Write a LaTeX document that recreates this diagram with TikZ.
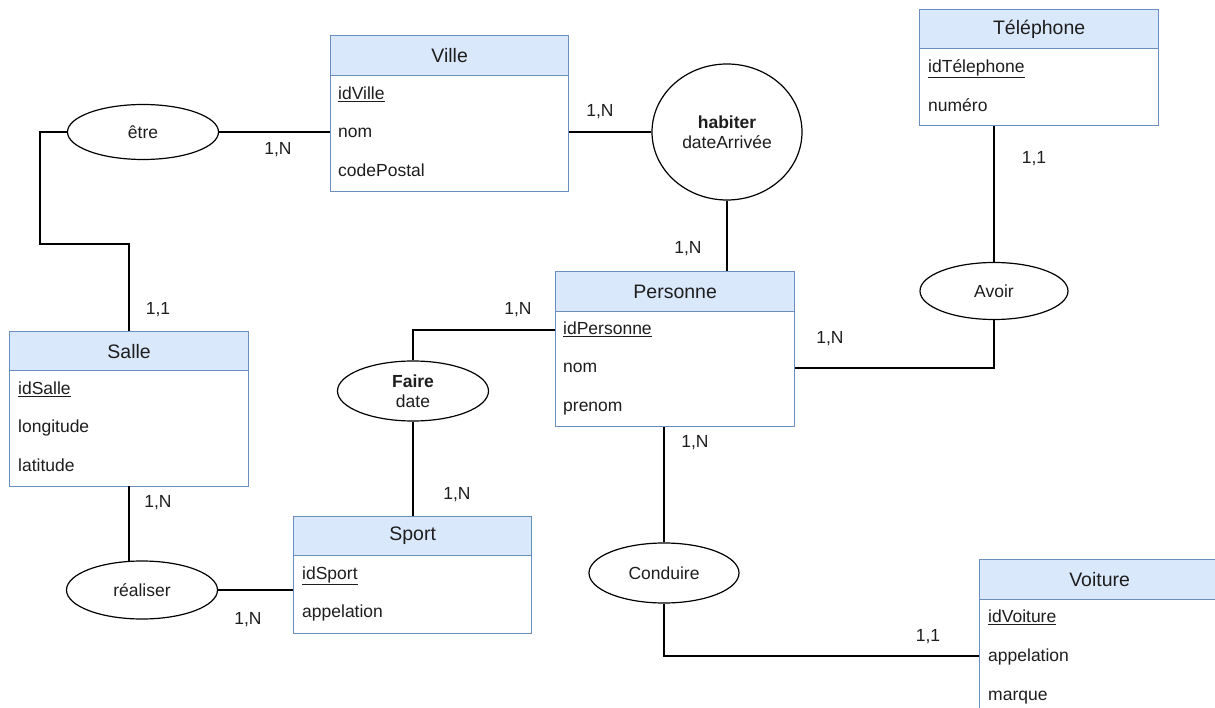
\documentclass[tikz,border=0pt]{standalone}
\usepackage{fontspec}
\setmainfont{Liberation Sans}
\usetikzlibrary{shapes.geometric}
\definecolor{hdfill}{HTML}{DAE8FC}
\definecolor{hdline}{HTML}{6C8EBF}
\definecolor{txt}{HTML}{1E1E1E}
\tikzset{
  entbox/.style={draw=hdline, line width=1.3pt, fill=white, anchor=north west, inner sep=0pt},
  enthead/.style={draw=hdline, line width=1.3pt, fill=hdfill, anchor=north west, inner sep=0pt,
    minimum height=40pt, text=txt, font=\fontsize{19.5}{22}\selectfont},
  attr/.style={anchor=west, inner sep=0pt, text height=12.5pt, text depth=3.5pt, text=txt,
    font=\fontsize{17.5}{20}\selectfont},
  rel/.style={ellipse, draw=black, line width=1.2pt, fill=white, inner sep=0pt,
    minimum width=151pt, minimum height=58pt, text=txt, align=center,
    font=\fontsize{17.5}{21}\selectfont},
  card/.style={inner sep=0pt, text height=12.5pt, text depth=3.5pt, text=txt,
    font=\fontsize{17.5}{20}\selectfont},
  conn/.style={draw=black, line width=1.2pt}
}
\begin{document}
\begin{tikzpicture}[x=1pt,y=-1pt]
\clip (0,0) rectangle (1215,708);
\fill[white] (0,0) rectangle (1215,708);

% ---------- entities ----------
% Ville
\node[entbox, minimum width=238pt, minimum height=156pt] (ville) at (330,35) {};
\node[enthead, minimum width=238pt] (villeH) at (330,35) {Ville};
\node[attr] (villeA1) at (338,95) {\underline{idVille}};
\node[attr] (villeA2) at (338,133) {nom};
\node[attr] (villeA3) at (338,172) {codePostal};

% Telephone
\node[entbox, minimum width=239pt, minimum height=116pt] (tel) at (919,9) {};
\node[enthead, minimum width=239pt, minimum height=39pt] (telH) at (919,9) {Téléphone};
\node[attr] (telA1) at (928,68) {\underline{idTélephone}};
\node[attr] (telA2) at (928,107) {numéro};

% Personne
\node[entbox, minimum width=239pt, minimum height=155pt] (pers) at (555,271) {};
\node[enthead, minimum width=239pt] (persH) at (555,271) {Personne};
\node[attr] (persA1) at (563,330) {\underline{idPersonne}};
\node[attr] (persA2) at (563,368) {nom};
\node[attr] (persA3) at (563,407) {prenom};

% Salle
\node[entbox, minimum width=239pt, minimum height=155pt] (salle) at (9,331) {};
\node[enthead, minimum width=239pt, minimum height=39pt] (salleH) at (9,331) {Salle};
\node[attr] (salleA1) at (18,390) {\underline{idSalle}};
\node[attr] (salleA2) at (18,428) {longitude};
\node[attr] (salleA3) at (18,467) {latitude};

% Sport
\node[entbox, minimum width=238pt, minimum height=117pt] (sport) at (293,516) {};
\node[enthead, minimum width=238pt, minimum height=39pt] (sportH) at (293,516) {Sport};
\node[attr] (sportA1) at (302,575) {\underline{idSport}};
\node[attr] (sportA2) at (302,613) {appelation};

% Voiture
\node[entbox, minimum width=240pt, minimum height=156pt] (voit) at (979,559) {};
\node[enthead, minimum width=240pt] (voitH) at (979,559) {Voiture};
\node[attr] (voitA1) at (988,618) {\underline{idVoiture}};
\node[attr] (voitA2) at (988,657) {appelation};
\node[attr] (voitA3) at (988,696) {marque};

% ---------- relations ----------
\node[rel, minimum height=55pt] (etre) at (143,132) {être};
\node[rel, minimum width=150pt, minimum height=136pt] (habiter) at (727,132) {\textbf{habiter}\\[-1pt]dateArrivée};
\node[rel, minimum width=148pt, minimum height=57pt] (avoir) at (994,291) {Avoir};
\node[rel, minimum height=60pt] (faire) at (413,391) {\textbf{Faire}\\[-1pt]date};
\node[rel] (realiser) at (142,590) {réaliser};
\node[rel, minimum width=150pt, minimum height=60pt] (conduire) at (664,573) {Conduire};

% ---------- connector corners ----------
\coordinate (c1) at (40,132);
\coordinate (c2) at (40,244);
\coordinate (c3) at (129,244);
\coordinate (c4) at (129,331);
\coordinate (c5) at (129,486);
\coordinate (c6) at (129,562);
\coordinate (c7) at (413,330);
\coordinate (c8) at (994,368);
\coordinate (c9) at (664,656);

% ---------- connectors ----------
\draw[conn] (etre.east) -- (etre.east -| ville.west);
\draw[conn] (etre.west) -- (c1) -- (c2) -- (c3) -- (c4);
\draw[conn] (habiter.west) -- (habiter.west -| ville.east);
\draw[conn] (habiter.south) -- (habiter.south |- pers.north);
\draw[conn] (persA1.west -| pers.west) -- (c7) -- (faire.north);
\draw[conn] (faire.south) -- (faire.south |- sport.north);
\draw[conn] (tel.south -| avoir.north) -- (avoir.north);
\draw[conn] (avoir.south) -- (c8) -- (c8 -| pers.east);
\draw[conn] (conduire.north |- pers.south) -- (conduire.north);
\draw[conn] (conduire.south) -- (c9) -- (c9 -| voit.west);
\draw[conn] (c5) -- (c6);
\draw[conn] (realiser.east) -- (realiser.east -| sport.west);

% ---------- cardinalities ----------
\node[card] (k1) at (278,150) {1,N};
\node[card] (k2) at (158,310) {1,1};
\node[card] (k3) at (600,112) {1,N};
\node[card] (k4) at (688,249) {1,N};
\node[card] (k5) at (518,310) {1,N};
\node[card] (k6) at (457,495) {1,N};
\node[card] (k7) at (1034,159) {1,1};
\node[card] (k8) at (830,339) {1,N};
\node[card] (k9) at (695,443) {1,N};
\node[card] (k10) at (928,637) {1,1};
\node[card] (k11) at (158,503) {1,N};
\node[card] (k12) at (248,620) {1,N};
\end{tikzpicture}
\end{document}
